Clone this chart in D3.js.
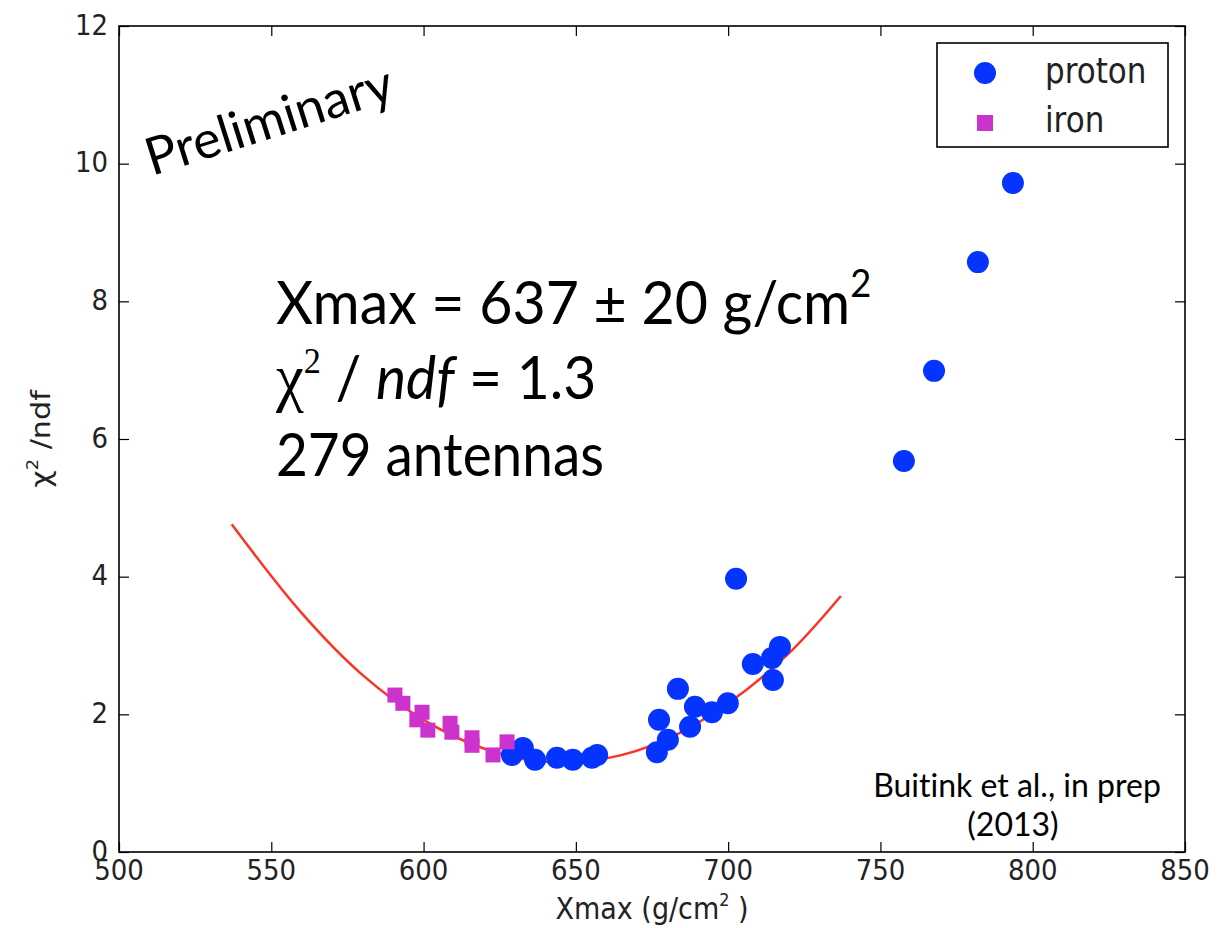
<!DOCTYPE html>
<html>
<head>
<meta charset="utf-8">
<script src="https://cdn.jsdelivr.net/npm/d3@7"></script>
<style>
body { margin: 0; background: #fff; }
</style>
</head>
<body>
<script>
// chi2/ndf vs Xmax scan - proton and iron showers, with parabola fit

// data
var protonX = [629, 632.6, 636.6, 643.8, 649, 655.3, 657, 676.6, 677.3, 680.2, 683.5, 687.5, 689.1, 694.7, 699.9, 702.6, 708.1, 714.4, 714.7, 717, 757.7, 767.6, 782, 793.5];
var protonY = [1.41, 1.51, 1.34, 1.37, 1.34, 1.37, 1.41, 1.45, 1.92, 1.63, 2.37, 1.82, 2.11, 2.03, 2.16, 3.97, 2.73, 2.82, 2.50, 2.98, 5.68, 6.99, 8.57, 9.72];
var ironX = [590.6, 593.2, 597.8, 599.5, 601.4, 608.7, 609.3, 615.9, 615.9, 622.8, 627.4];
var ironY = [2.28, 2.16, 1.92, 2.03, 1.77, 1.87, 1.74, 1.66, 1.55, 1.41, 1.60];
// fit curve
var fitX = [537, 560, 580, 600, 620, 640, 660, 680, 700, 720, 737];
var fitY = [4.76, 3.47, 2.57, 1.92, 1.50, 1.31, 1.36, 1.64, 2.16, 2.89, 3.72];

var xTicks = [500, 550, 600, 650, 700, 750, 800, 850];
var yTicks = [0, 2, 4, 6, 8, 10, 12];
var legendNames = ["proton", "iron"];

var width = 1217, height = 928;
var pLeft = 119, pRight = 1185, pTop = 26, pBottom = 852;
var tickLen = 10;
var stretch = 1.12; // labels look a bit taller than wide

var blue = "#0533ff", magenta = "#cc33cc", red = "#ff3324";
var plain = "'DejaVu Sans', sans-serif";
var big = "Lato, 'Open Sans', sans-serif";

var svg = d3.select("body").append("svg")
  .attr("width", width)
  .attr("height", height)
  .style("font-family", plain);

var x = d3.scaleLinear().domain([500, 850]).range([pLeft, pRight]);
var y = d3.scaleLinear().domain([0, 12]).range([pBottom, pTop]);

// ticks pointing inward on all four sides
var axisG = svg.append("g");
axisG.append("g").attr("transform", "translate(0," + pBottom + ")")
  .call(d3.axisBottom(x).tickValues(xTicks).tickSize(-tickLen).tickFormat(""));
axisG.append("g").attr("transform", "translate(0," + pTop + ")")
  .call(d3.axisTop(x).tickValues(xTicks).tickSize(-tickLen).tickFormat(""));
axisG.append("g").attr("transform", "translate(" + pLeft + ",0)")
  .call(d3.axisLeft(y).tickValues(yTicks).tickSize(-tickLen).tickFormat(""));
axisG.append("g").attr("transform", "translate(" + pRight + ",0)")
  .call(d3.axisRight(y).tickValues(yTicks).tickSize(-tickLen).tickFormat(""));
axisG.selectAll(".domain").remove();
axisG.selectAll(".tick line").attr("stroke", "#000").attr("stroke-width", 1.2);

// tick labels
function stretchedText(g, px, py, str, size, anchor) {
  return g.append("text")
    .attr("transform", "translate(" + px + "," + py + ") scale(1," + stretch + ")")
    .attr("text-anchor", anchor)
    .attr("font-size", size)
    .attr("fill", "#222")
    .style("font-family", plain)
    .text(str);
}
xTicks.forEach(function (t) {
  stretchedText(svg, x(t), 880, t, 26, "middle");
});
yTicks.forEach(function (t) {
  stretchedText(svg, pLeft - 11, y(t) + 8.5, t, 26, "end");
});

// fit line
var line = d3.line()
  .x(function (d) { return x(d[0]); })
  .y(function (d) { return y(d[1]); })
  .curve(d3.curveCatmullRom);
svg.append("path")
  .datum(d3.zip(fitX, fitY))
  .attr("d", line)
  .attr("fill", "none")
  .attr("stroke", red)
  .attr("stroke-width", 2.5);

// proton points first, iron on top
svg.append("g").selectAll("circle")
  .data(d3.zip(protonX, protonY))
  .join("circle")
  .attr("cx", function (d) { return x(d[0]); })
  .attr("cy", function (d) { return y(d[1]); })
  .attr("r", 11)
  .attr("fill", blue);

var sq = 15;
svg.append("g").selectAll("rect")
  .data(d3.zip(ironX, ironY))
  .join("rect")
  .attr("x", function (d) { return x(d[0]) - sq / 2; })
  .attr("y", function (d) { return y(d[1]) - sq / 2; })
  .attr("width", sq)
  .attr("height", sq)
  .attr("fill", magenta);

// frame
svg.append("rect")
  .attr("x", pLeft).attr("y", pTop)
  .attr("width", pRight - pLeft).attr("height", pBottom - pTop)
  .attr("fill", "none")
  .attr("stroke", "#000")
  .attr("stroke-width", 1.6);

// legend
var leg = svg.append("g");
leg.append("rect")
  .attr("x", 937).attr("y", 43)
  .attr("width", 231).attr("height", 104)
  .attr("fill", "#fff")
  .attr("stroke", "#000")
  .attr("stroke-width", 1.6);
leg.append("circle").attr("cx", 985).attr("cy", 73).attr("r", 11).attr("fill", blue);
leg.append("rect").attr("x", 985 - 8).attr("y", 123 - 8).attr("width", 16).attr("height", 16).attr("fill", magenta);
stretchedText(leg, 1045, 83, legendNames[0], 31, "start");
stretchedText(leg, 1045, 132, legendNames[1], 31, "start");

// axis labels
var xl = svg.append("text")
  .attr("transform", "translate(" + (pLeft + pRight) / 2 + ",919) scale(1," + stretch + ")")
  .attr("text-anchor", "middle")
  .attr("font-size", 27)
  .attr("fill", "#222")
  .style("font-family", plain);
xl.append("tspan").text("Xmax (g/cm");
xl.append("tspan").attr("font-size", 16).attr("dy", -12).text("2");
xl.append("tspan").attr("dy", 12).text(" )");

var yl = svg.append("text")
  .attr("transform", "translate(50," + (pTop + pBottom) / 2 + ") rotate(-90) scale(" + stretch + ",1)")
  .attr("text-anchor", "middle")
  .attr("font-size", 27)
  .attr("fill", "#222")
  .style("font-family", plain);
yl.append("tspan").text("χ");
yl.append("tspan").attr("font-size", 16).attr("dy", -12).text("2");
yl.append("tspan").attr("dy", 12).text(" /ndf");

// annotations (Gill Sans look-alike)
function bigText(px, py, size, sx) {
  return svg.append("text")
    .attr("transform", "translate(" + px + "," + py + ") scale(" + sx + ",1)")
    .attr("font-size", size)
    .attr("fill", "#000")
    .style("font-family", big)
    .style("font-variant-ligatures", "none");
}

svg.append("text")
  .attr("transform", "translate(152,176) rotate(-17.5)")
  .attr("font-size", 52)
  .attr("fill", "#000")
  .style("font-family", big)
  .text("Preliminary");

var l1 = bigText(276, 324, 60, 0.955);
l1.append("tspan").text("Xmax = 637 ± 20 g/cm");
l1.append("tspan").attr("font-size", 38).attr("dy", -27).text("2");

var l2 = bigText(276, 399, 60, 0.95);
l2.append("tspan").style("font-family", "'Liberation Serif', serif").attr("font-size", 66).text("χ");
l2.append("tspan").style("font-family", "'Liberation Serif', serif").attr("font-size", 36).attr("dy", -26).text("2");
l2.append("tspan").attr("dy", 26).text(" / ");
l2.append("tspan").attr("font-style", "italic").text("ndf");
l2.append("tspan").text(" = 1.3");

bigText(276, 476, 60, 0.915).text("279 antennas");

svg.append("text")
  .attr("x", 1017).attr("y", 797)
  .attr("text-anchor", "middle")
  .attr("font-size", 32)
  .style("font-family", big)
  .style("font-variant-ligatures", "none")
  .text("Buitink et al., in prep");
svg.append("text")
  .attr("x", 1013).attr("y", 836)
  .attr("text-anchor", "middle")
  .attr("font-size", 32)
  .style("font-family", big)
  .text("(2013)");
</script>
</body>
</html>
